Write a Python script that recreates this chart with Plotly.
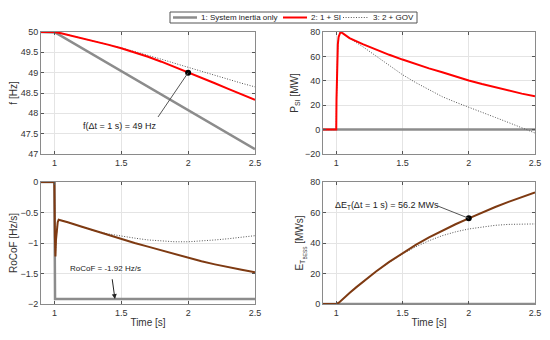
import plotly.graph_objects as go

# ---------------- data ----------------
# Series 1: system inertia only
t_g = [0.9, 1.0, 1.005, 2.5]
f_g = [50.0, 50.0, 49.99, 47.12]
p_g = [0.0, 0.0, 0.0, 0.0]
r_g = [0.0, 0.0, -1.92, -1.92]
e_g = [0.0, 0.0, 0.0, 0.0]

# Series 2: 1 + SI  (red)
t_f2 = [0.9, 1.0, 1.05, 1.1, 1.2, 1.3, 1.4, 1.5, 1.6, 1.7, 1.8, 1.9, 2.0, 2.1, 2.2, 2.3, 2.4, 2.5]
f_2 = [50.0, 50.0, 49.97, 49.93, 49.86, 49.78, 49.69, 49.6, 49.5, 49.39, 49.27, 49.14, 49.0, 48.87, 48.74, 48.6, 48.47, 48.33]

t_p2 = [0.9, 1.0, 1.002, 1.005, 1.008, 1.012, 1.018, 1.025, 1.032, 1.05, 1.1, 1.2, 1.3, 1.4, 1.5, 1.6, 1.7, 1.8, 1.9, 2.0, 2.1, 2.2, 2.3, 2.4, 2.5]
p_2 = [0.0, 0.0, 25.0, 48.0, 61.0, 70.0, 76.0, 79.0, 80.0, 78.8, 75.0, 70.0, 65.5, 61.3, 57.4, 53.7, 50.2, 47.0, 43.5, 40.3, 37.4, 34.7, 32.0, 29.5, 27.3]

t_r2 = [0.9, 1.0, 1.004, 1.008, 1.012, 1.018, 1.025, 1.032, 1.05, 1.1, 1.2, 1.3, 1.4, 1.5, 1.6, 1.7, 1.8, 1.9, 2.0, 2.1, 2.2, 2.3, 2.4, 2.5]
r_2 = [0.0, 0.0, -0.9, -1.22, -0.95, -0.75, -0.66, -0.62, -0.63, -0.66, -0.73, -0.8, -0.87, -0.93, -1.0, -1.06, -1.12, -1.18, -1.25, -1.3, -1.35, -1.4, -1.44, -1.48]

t_e2 = [0.9, 1.0, 1.02, 1.05, 1.1, 1.15, 1.2, 1.3, 1.4, 1.5, 1.6, 1.7, 1.8, 1.9, 2.0, 2.1, 2.2, 2.3, 2.4, 2.5]
e_2 = [0.0, 0.0, 0.9, 3.5, 7.2, 10.9, 14.5, 21.3, 27.6, 33.4, 38.8, 43.7, 48.2, 52.3, 56.2, 60.0, 63.6, 67.0, 70.2, 73.2]

# Series 3: 2 + GOV  (dotted)
t_f3 = [0.9, 1.0, 1.05, 1.1, 1.2, 1.3, 1.4, 1.5, 1.6, 1.7, 1.8, 1.9, 2.0, 2.1, 2.2, 2.3, 2.4, 2.5]
f_3 = [50.0, 50.0, 49.97, 49.93, 49.86, 49.78, 49.695, 49.61, 49.52, 49.43, 49.33, 49.23, 49.13, 49.03, 48.93, 48.83, 48.74, 48.65]

t_p3 = [0.9, 1.0, 1.002, 1.005, 1.008, 1.012, 1.018, 1.025, 1.032, 1.05, 1.1, 1.2, 1.3, 1.4, 1.5, 1.6, 1.7, 1.8, 1.9, 2.0, 2.1, 2.2, 2.3, 2.4, 2.5]
p_3 = [0.0, 0.0, 25.0, 48.0, 61.0, 70.0, 76.0, 79.0, 80.0, 78.8, 74.8, 68.0, 60.5, 52.5, 45.0, 38.5, 32.5, 27.0, 22.5, 18.5, 14.2, 10.0, 5.8, 1.5, -2.8]

t_r3 = [0.9, 1.0, 1.004, 1.008, 1.012, 1.018, 1.025, 1.032, 1.05, 1.1, 1.2, 1.3, 1.4, 1.5, 1.6, 1.7, 1.8, 1.9, 2.0, 2.1, 2.2, 2.3, 2.4, 2.5]
r_3 = [0.0, 0.0, -0.9, -1.22, -0.95, -0.75, -0.66, -0.62, -0.63, -0.66, -0.73, -0.8, -0.85, -0.89, -0.92, -0.95, -0.97, -0.98, -0.98, -0.97, -0.95, -0.93, -0.91, -0.88]

t_e3 = [0.9, 1.0, 1.02, 1.05, 1.1, 1.15, 1.2, 1.3, 1.4, 1.5, 1.6, 1.7, 1.8, 1.9, 2.0, 2.1, 2.2, 2.3, 2.4, 2.5]
e_3 = [0.0, 0.0, 0.9, 3.5, 7.2, 10.9, 14.5, 21.2, 27.3, 32.8, 37.5, 41.5, 44.8, 47.3, 49.2, 50.6, 51.6, 52.2, 52.5, 52.5]

# highlighted points
mark_t = [2.0]
mark_f = [49.0]
mark_e = [56.2]

names = ["1: System inertia only", "2: 1 + SI", "3: 2 + GOV"]
x_ticks = [1, 1.5, 2, 2.5]
x_tick_text = ["1", "1.5", "2", "2.5"]

# ---------------- styles ----------------
GREY = "#8c8c8c"
RED = "#ff0000"
BROWN = "#7e3a12"
DOT = "#555555"
DOTDASH = "1px,1.6px"
FONT = "Liberation Sans, Arial, sans-serif"

# the page body has an 8 px margin, so the figure is drawn at (8, 8)
OFF = 8
W, H = 550 - 2 * OFF, 340 - 2 * OFF

def px(X):
    return (X - OFF) / W

def py(Y):
    return 1 - (Y - OFF) / H

fig = go.Figure()

def add(x, y, ax, color, width, dash="solid", name=None):
    fig.add_trace(go.Scatter(
        x=x, y=y, xaxis="x" + ax, yaxis="y" + ax, mode="lines",
        line=dict(color=color, width=width, dash=dash),
        name=name, showlegend=False, hoverinfo="skip"))

# top-left: frequency
add(t_g, f_g, "", GREY, 2.5, name=names[0])
add(t_f3, f_3, "", DOT, 1, dash=DOTDASH, name=names[2])
add(t_f2, f_2, "", RED, 2, name=names[1])
# top-right: P_SI
add(t_g, p_g, "2", GREY, 2.5)
add(t_p3, p_3, "2", DOT, 1, dash=DOTDASH)
add(t_p2, p_2, "2", RED, 2)
# bottom-left: RoCoF
add(t_g, r_g, "3", GREY, 2.5)
add(t_r3, r_3, "3", DOT, 1, dash=DOTDASH)
add(t_r2, r_2, "3", BROWN, 2)
# bottom-right: energy
add(t_g, e_g, "4", GREY, 2.5)
add(t_e3, e_3, "4", DOT, 1, dash=DOTDASH)
add(t_e2, e_2, "4", BROWN, 2)

# markers
fig.add_trace(go.Scatter(x=mark_t, y=mark_f, xaxis="x", yaxis="y", mode="markers",
                         marker=dict(color="black", size=6), showlegend=False, hoverinfo="skip"))
fig.add_trace(go.Scatter(x=mark_t, y=mark_e, xaxis="x4", yaxis="y4", mode="markers",
                         marker=dict(color="black", size=6), showlegend=False, hoverinfo="skip"))

axis_common = dict(
    showline=True, linecolor="#8a8a8a", linewidth=1, mirror="ticks",
    ticks="inside", ticklen=3, tickcolor="#555555",
    showgrid=True, gridcolor="#e4e4e4", gridwidth=1,
    zeroline=False, tickfont=dict(size=9, color="#333333", family=FONT),
    automargin=False,
)
title_font = dict(size=10, color="#333333", family=FONT)

def xax(a, b, anchor, title=None):
    d = dict(axis_common, domain=[px(a), px(b)], anchor=anchor, range=[0.9, 2.5],
             tickvals=x_ticks, ticktext=x_tick_text)
    if title:
        d["title"] = dict(text=title, font=title_font, standoff=2)
    return d

def yax(top, bottom, anchor, rng, tv, title):
    return dict(axis_common, domain=[py(bottom), py(top)], anchor=anchor, range=rng, tickvals=tv,
                title=dict(text=title, font=title_font, standoff=4))

L1, R1 = 41, 255
L2, R2 = 323, 535
T1, B1 = 32, 154
T2, B2 = 182, 304

fig.update_layout(
    width=W, height=H, margin=dict(l=0, r=0, t=0, b=0),
    paper_bgcolor="white", plot_bgcolor="white",
    font=dict(family=FONT, size=9, color="#333333"),
    xaxis=xax(L1, R1, "y"),
    yaxis=yax(T1, B1, "x", [47, 50], [47, 47.5, 48, 48.5, 49, 49.5, 50], "f [Hz]"),
    xaxis2=xax(L2, R2, "y2"),
    yaxis2=yax(T1, B1, "x2", [-20, 80], [-20, 0, 20, 40, 60, 80], "P<sub>SI</sub> [MW]"),
    xaxis3=xax(L1, R1, "y3", "Time [s]"),
    yaxis3=yax(T2, B2, "x3", [-2, 0], [-2, -1.5, -1, -0.5, 0], "RoCoF [Hz/s]"),
    xaxis4=xax(L2, R2, "y4", "Time [s]"),
    yaxis4=yax(T2, B2, "x4", [0, 80], [0, 20, 40, 60, 80], "E<sub>T<sub>BESS</sub></sub> [MWs]"),
    showlegend=False,
)

# ---------------- legend (compact MATLAB-style box) ----------------
leg_font = dict(size=8, color="#222222", family=FONT)
fig.add_shape(type="rect", xref="paper", yref="paper", x0=px(170), x1=px(417), y0=py(23), y1=py(12),
              line=dict(color="#555555", width=1), fillcolor="white", layer="above")
leg_items = [
    (173, 197, 199, GREY, 2.5, "solid"),
    (283, 307, 309, RED, 2, "solid"),
    (343, 368, 371, DOT, 1, DOTDASH),
]
for (xa, xb, xt, col, wd, ds), nm in zip(leg_items, names):
    fig.add_shape(type="line", xref="paper", yref="paper", x0=px(xa), x1=px(xb), y0=py(17.5), y1=py(17.5),
                  line=dict(color=col, width=wd, dash=ds), layer="above")
    fig.add_annotation(x=px(xt), y=py(17.5), xref="paper", yref="paper", text=nm, showarrow=False,
                       xanchor="left", yanchor="middle", font=leg_font)

# ---------------- annotations ----------------
ann_font = dict(size=9, color="#222222", family=FONT)
fig.add_annotation(x=1.487, y=47.69, xref="x", yref="y", text="f(Δt = 1 s) = 49 Hz",
                   showarrow=False, font=ann_font)
fig.add_shape(type="line", xref="x", yref="y", x0=1.775, y0=47.91, x1=2.0, y1=49.0,
              line=dict(color="#555555", width=1))

fig.add_annotation(x=1.3785, y=-1.41, xref="x3", yref="y3", text="RoCoF = -1.92 Hz/s",
                   showarrow=False, font=dict(ann_font, size=8))
fig.add_annotation(x=1.453, y=-1.92, xref="x3", yref="y3", ax=1.431, ay=-1.57,
                   axref="x3", ayref="y3", text="", showarrow=True, arrowhead=2,
                   arrowsize=1, arrowwidth=1, arrowcolor="#222222", standoff=0)

fig.add_annotation(x=1.385, y=64.3, xref="x4", yref="y4",
                   text="ΔE<sub>T</sub>(Δt = 1 s) = 56.2 MWs", showarrow=False, font=ann_font)
fig.add_shape(type="line", xref="x4", yref="y4", x0=1.765, y0=64.3, x1=2.0, y1=56.2,
              line=dict(color="#555555", width=1))

fig.write_html("out.html")
